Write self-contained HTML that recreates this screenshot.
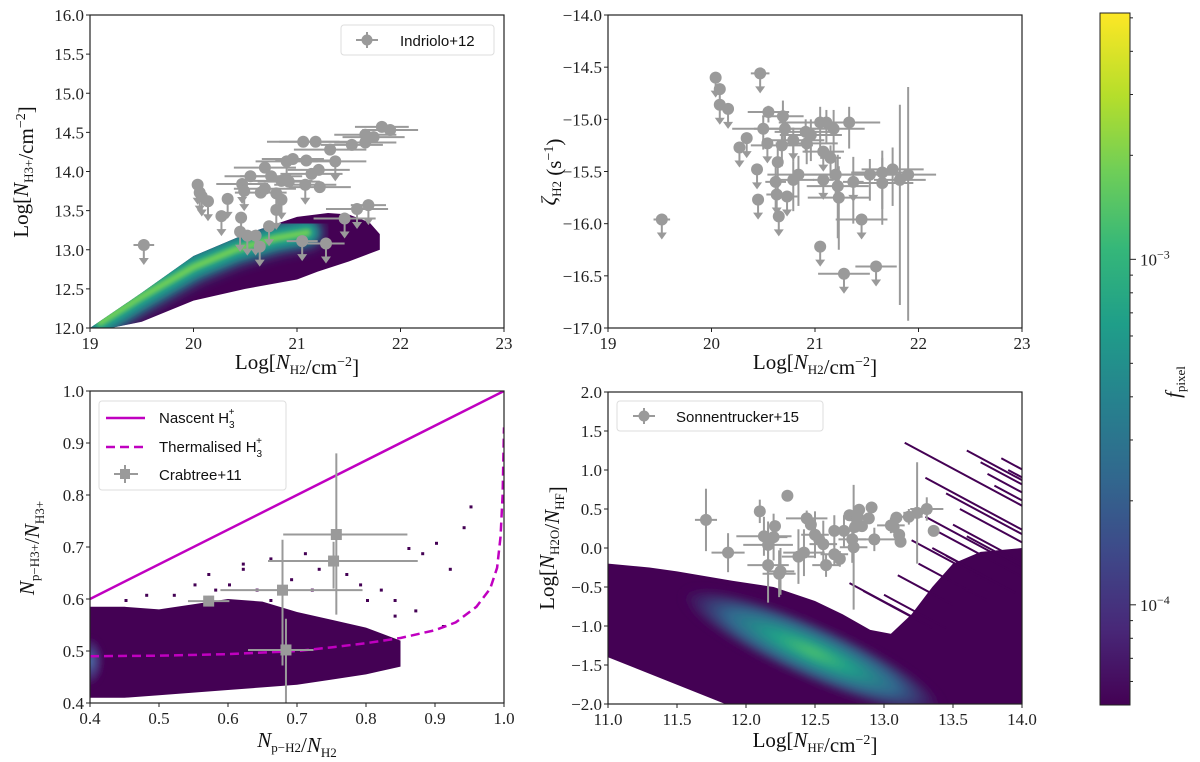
<!DOCTYPE html>
<html><head><meta charset="utf-8">
<style>
html,body{margin:0;padding:0;background:#fff;}
svg{display:block;}
.tk{font-family:"Liberation Serif",serif;font-size:17px;fill:#222;}
.al{font-family:"Liberation Serif",serif;font-size:21px;fill:#111;}
.lg{font-family:"Liberation Sans",sans-serif;font-size:15px;fill:#111;}
</style></head>
<body>
<svg id="fig" width="1200" height="762" viewBox="0 0 1200 762" xmlns="http://www.w3.org/2000/svg">
<defs>
<linearGradient id="vir" x1="0" y1="1" x2="0" y2="0">
<stop offset="0" stop-color="#440154"/><stop offset="0.11" stop-color="#482878"/><stop offset="0.22" stop-color="#3e4989"/><stop offset="0.33" stop-color="#31688e"/><stop offset="0.44" stop-color="#26828e"/><stop offset="0.55" stop-color="#1f9e89"/><stop offset="0.66" stop-color="#35b779"/><stop offset="0.77" stop-color="#6ece58"/><stop offset="0.88" stop-color="#b5de2b"/><stop offset="1" stop-color="#fde725"/>
</linearGradient>
<linearGradient id="hline" x1="0" y1="0" x2="1" y2="0">
<stop offset="0" stop-color="#35b779"/><stop offset="0.1" stop-color="#fde725"/><stop offset="0.55" stop-color="#fde725"/><stop offset="0.7" stop-color="#6ece58"/><stop offset="0.82" stop-color="#31688e"/><stop offset="0.9" stop-color="#482878"/><stop offset="1" stop-color="#440154"/>
</linearGradient>
<radialGradient id="glow4" cx="0.5" cy="0.5" r="0.5">
<stop offset="0" stop-color="#4ec36b"/><stop offset="0.3" stop-color="#1f9e89"/><stop offset="0.65" stop-color="#31688e"/><stop offset="1" stop-color="#440154"/>
</radialGradient>
<radialGradient id="glow3" cx="0.5" cy="0.5" r="0.5">
<stop offset="0" stop-color="#4a6fa8"/><stop offset="1" stop-color="#440154"/>
</radialGradient>
<filter id="blur6"><feGaussianBlur stdDeviation="6"/></filter>
<filter id="blur4"><feGaussianBlur stdDeviation="4"/></filter>
<filter id="blur2"><feGaussianBlur stdDeviation="2"/></filter>
<clipPath id="c1"><rect x="90" y="15" width="414" height="313"/></clipPath>
<clipPath id="c1b"><polygon id="c1poly" points="0,0"/></clipPath>
<clipPath id="c2"><rect x="608" y="15" width="414" height="313"/></clipPath>
<clipPath id="c3"><rect x="90" y="391" width="414" height="312"/></clipPath>
<clipPath id="c4"><rect x="608" y="392" width="414" height="312"/></clipPath>
</defs>
</svg>
<script>
// ---------- DATA ----------
const p1x=[19.52,20.04,20.06,20.08,20.14,20.27,20.33,20.46,20.47,20.49,20.45,20.52,20.6,20.64,20.55,20.69,20.65,20.69,20.75,20.8,20.85,20.8,20.73,20.85,20.92,20.9,20.96,21.09,21.06,21.18,21.32,21.08,21.22,21.14,21.21,21.37,21.53,21.66,21.66,21.74,21.82,21.9,21.46,21.58,21.69,21.05,21.28];
const p1y=[13.06,13.83,13.73,13.68,13.62,13.43,13.65,13.41,13.84,13.75,13.23,13.18,13.18,13.04,13.94,14.05,13.73,13.78,13.94,13.72,13.64,13.51,13.3,13.88,13.87,14.13,14.16,14.14,14.38,14.38,14.28,13.83,13.8,13.97,14.02,14.13,14.34,14.37,14.47,14.44,14.57,14.53,13.4,13.52,13.57,13.11,13.08];
const p1xe=[0.1,0,0,0,0,0,0,0,0.25,0,0,0,0,0,0.25,0.3,0.25,0.3,0.3,0,0,0,0,0.3,0.3,0.3,0.3,0.3,0.35,0.35,0.35,0.3,0.3,0.3,0.3,0.3,0.3,0.3,0.3,0.3,0.26,0.27,0.3,0.3,0.17,0.15,0.18];
const p1lim=[1,1,1,1,1,1,1,1,1,1,1,1,1,1,0,0,0,0,0,1,1,1,1,0,0,1,0,0,0,0,0,1,0,0,0,1,0,0,0,0,0,0,1,1,1,1,1];
const d1upX=[19.0,19.5,20.0,20.5,21.0,21.3,21.5,21.7,21.8];
const d1upY=[12.0,12.45,12.92,13.2,13.42,13.47,13.45,13.35,13.2];
const d1loX=[21.8,21.7,21.5,21.2,21.0,20.5,20.0,19.5,19.2];
const d1loY=[13.0,12.95,12.85,12.72,12.62,12.5,12.35,12.08,12.0];
const ridgeX=[19.1,19.5,20.0,20.4,20.8,21.1];
const ridgeY=[12.07,12.4,12.78,13.0,13.15,13.22];

const p2x=[19.52,20.04,20.08,20.08,20.16,20.47,20.27,20.34,20.44,20.45,20.55,20.5,20.54,20.62,20.63,20.64,20.65,20.69,20.68,20.71,20.73,20.79,20.79,20.84,20.91,20.92,20.96,21.05,21.11,21.18,21.33,21.08,21.15,21.08,21.2,21.22,21.23,21.37,21.45,21.53,21.65,21.65,21.75,21.82,21.9,21.05,21.28,21.59];
const p2y=[-15.96,-14.6,-14.71,-14.86,-14.9,-14.56,-15.27,-15.18,-15.48,-15.77,-14.93,-15.09,-15.23,-15.6,-15.72,-15.41,-15.93,-14.97,-15.25,-15.09,-15.74,-15.2,-15.58,-15.53,-15.12,-15.23,-15.15,-15.03,-15.03,-15.09,-15.03,-15.31,-15.37,-15.58,-15.53,-15.64,-15.75,-15.6,-15.96,-15.53,-15.51,-15.61,-15.48,-15.58,-15.53,-16.22,-16.48,-16.41];
const p2xe=[0.08,0,0,0,0,0.09,0,0,0,0,0.2,0.3,0,0.1,0.1,0,0,0.2,0.3,0.3,0.1,0.3,0.2,0.3,0.3,0.3,0.3,0.4,0.4,0.3,0.3,0.2,0.1,0.1,0.3,0.3,0.3,0.1,0.25,0.3,0.3,0.3,0.3,0.25,0.27,0,0.25,0.2];
const p2ye=[0,0,0,0,0,0,0,0,0,0,0.1,0.2,0,0.3,0,0.35,0,0.25,0.2,0.2,0,0.2,0.3,0.3,0.2,0.2,0.25,0.25,0.2,0.3,0.25,0,0.2,0,0.25,0.5,0.5,0.4,0,0.25,0.35,0.4,0.35,1.2,1.4,0,0,0];
const p2lim=[1,1,1,1,1,1,1,1,1,1,0,0,1,0,1,0,1,0,0,0,1,1,0,0,0,0,0,0,0,0,0,1,0,1,0,0,0,1,1,0,0,0,0,0,0,1,1,1];
const hlineY=-16.88, hlineX0=19.0, hlineX1=22.25;

const p3x=[0.572,0.679,0.684,0.753,0.757];
const p3y=[0.596,0.617,0.502,0.673,0.724];
const p3xlo=[0.03,0.09,0.055,0.095,0.077];
const p3xhi=[0.03,0.116,0.04,0.122,0.103];
const p3ylo=[0.01,0.145,0.11,0.053,0.154];
const p3yhi=[0.01,0.097,0.06,0.037,0.156];
const nascX=[0.4,1.0], nascY=[0.6,1.0];
const thermX=[0.4,0.5,0.6,0.7,0.75,0.8,0.85,0.9,0.93,0.96,0.98,0.99,0.995,0.998,1.0];
const thermY=[0.49,0.491,0.494,0.5,0.507,0.515,0.525,0.54,0.555,0.585,0.62,0.66,0.72,0.8,0.93];
const d3X=[0.4,0.45,0.5,0.55,0.6,0.65,0.7,0.75,0.8,0.85,0.85,0.8,0.75,0.7,0.65,0.6,0.55,0.5,0.45,0.4];
const d3Y=[0.585,0.585,0.58,0.59,0.6,0.595,0.575,0.56,0.545,0.52,0.47,0.455,0.445,0.435,0.43,0.425,0.42,0.415,0.41,0.41];
const s3X=[0.45,0.48,0.52,0.55,0.57,0.6,0.62,0.64,0.66,0.69,0.71,0.73,0.77,0.79,0.82,0.84,0.86,0.88,0.9,0.92,0.94,0.95,0.87,0.91,0.62,0.58,0.66,0.72,0.8,0.84];
const s3Y=[0.6,0.61,0.61,0.63,0.65,0.63,0.66,0.62,0.68,0.64,0.69,0.66,0.65,0.63,0.62,0.6,0.7,0.69,0.71,0.66,0.74,0.78,0.58,0.55,0.67,0.62,0.6,0.62,0.6,0.57];

const p4x=[11.71,11.87,12.1,12.3,12.13,12.16,12.16,12.2,12.21,12.24,12.25,12.38,12.42,12.44,12.47,12.5,12.53,12.56,12.58,12.64,12.64,12.68,12.71,12.75,12.77,12.78,12.79,12.81,12.82,12.84,12.89,12.91,12.93,13.05,13.07,13.09,13.11,13.12,13.18,13.24,13.31,13.36];
const p4y=[0.36,-0.06,0.47,0.67,0.15,0.04,-0.22,0.14,0.28,-0.33,-0.3,-0.11,-0.06,0.38,0.3,0.17,0.11,0.05,-0.22,0.22,-0.08,-0.14,0.22,0.42,0.11,0.01,0.27,0.4,0.49,0.28,0.38,0.52,0.11,0.29,0.27,0.39,0.17,0.08,0.4,0.45,0.5,0.22];
const p4xe=[0.08,0.12,0,0,0.2,0.18,0.15,0.1,0,0.12,0.1,0.12,0.15,0.15,0,0.1,0,0.1,0.1,0,0.1,0,0.1,0,0.1,0.1,0,0,0,0,0,0,0.15,0.1,0,0,0,0,0.1,0.1,0.12,0];
const p4ye=[0.4,0.25,0.15,0.06,0.25,0.3,0.48,0.3,0,0.3,0.3,0.35,0.3,0.1,0,0.3,0,0.3,0.15,0.2,0.15,0.1,0.2,0,0.3,0.8,0,0,0,0,0,0,0.15,0.1,0,0,0,0,0.1,0.65,0.15,0];
const d4X=[11.0,11.3,11.5,11.9,12.2,12.5,12.7,12.9,13.05,13.2,13.35,13.5,13.7,14.0,14.0,13.0,11.85,11.0];
const d4Y=[-0.2,-0.25,-0.3,-0.42,-0.5,-0.68,-0.85,-1.05,-1.1,-0.85,-0.5,-0.2,-0.05,0.0,-2.0,-2.0,-2.0,-1.4];
const streakX0=[13.15,13.3,13.45,13.55,13.6,13.7,13.75,13.8,13.85,13.9,13.3,13.4,12.75,12.85,13.0,13.1,13.2,13.35,13.5,13.25,13.6,13.45];
const streakY0=[1.35,0.9,0.7,0.5,1.25,1.1,0.95,0.8,1.15,1.0,0.4,0.2,-0.45,-0.55,-0.6,-0.35,0.1,0.0,0.3,-0.2,0.15,-0.1];
const streakLen=[0.85,0.7,0.55,0.45,0.4,0.3,0.25,0.2,0.15,0.1,0.7,0.6,0.5,0.5,0.45,0.4,0.6,0.6,0.5,0.5,0.4,0.5];

const cbTicksMajor=[-3,-4], cbMin=-4.29, cbMax=-2.287;

// ---------- RENDER ----------
const NS='http://www.w3.org/2000/svg';
const svg=document.getElementById('fig');
function mk(tag,a,p){const e=document.createElementNS(NS,tag);for(const k in a)e.setAttribute(k,a[k]);(p||svg).appendChild(e);return e;}
function axis(d0,d1,p0,p1){return v=>p0+(v-d0)/(d1-d0)*(p1-p0);}
const GR='#9a9a9a', MG='#c000c0';

function frame(X,Y,xt,yt,xfmt,yfmt,px0,px1,py0,py1,name){
  const g=mk('g',{});
  
  
  const r=mk('rect',{x:px0,y:py0,width:px1-px0,height:py1-py0,fill:'none',stroke:'#222','stroke-width':1.2},g);
  
  
  xt.forEach(v=>{const x=X(v);mk('line',{x1:x,x2:x,y1:py1,y2:py1+4,stroke:'#222'},g);
    const t=mk('text',{x:x,y:py1+21,'text-anchor':'middle',class:'tk'},g);t.textContent=xfmt(v);
    
    });
  yt.forEach(v=>{const y=Y(v);mk('line',{x1:px0-4,x2:px0,y1:y,y2:y,stroke:'#222'},g);
    const t=mk('text',{x:px0-6,y:y+6,'text-anchor':'end',class:'tk'},g);t.textContent=yfmt(v);
    
    });
}
function f1(v){return (v<0?'\u2212':'')+Math.abs(v).toFixed(1);}
function f0(v){return String(v);}
function pts(xs,ys){return xs.map((x,i)=>x+','+ys[i]).join(' ');}
function marker(g,x,y,lim,sq){
  if(lim){mk('line',{x1:x,x2:x,y1:y,y2:y+16,stroke:GR,'stroke-width':2},g);
    mk('path',{d:`M${x-5},${y+13} L${x+5},${y+13} L${x},${y+20} Z`,fill:GR},g);}
  if(sq) mk('rect',{x:x-5.5,y:y-5.5,width:11,height:11,fill:GR},g);
  else mk('circle',{cx:x,cy:y,r:6,fill:GR},g);
}

// Panel 1
{
const X=axis(19,23,90,504),Y=axis(12,16,328,15);
const envPts=pts(d1upX.map(X).concat(d1loX.map(X)),d1upY.map(Y).concat(d1loY.map(Y)));
document.getElementById('c1poly').setAttribute('points',envPts);
const g=mk('g',{'clip-path':'url(#c1)'});


const poly=mk('polygon',{points:envPts,fill:'#440154'},g);


const gg=mk('g',{'clip-path':'url(#c1b)'},g);
const rp=pts(ridgeX.map(X),ridgeY.map(Y));
mk('polyline',{points:rp,fill:'none',stroke:'#26828e','stroke-width':30,'stroke-linecap':'round',filter:'url(#blur6)'},gg);
mk('polyline',{points:rp,fill:'none',stroke:'#1f9e89','stroke-width':18,'stroke-linecap':'round',filter:'url(#blur4)'},gg);
mk('polyline',{points:rp,fill:'none',stroke:'#6ece58','stroke-width':7,'stroke-linecap':'round',filter:'url(#blur2)'},gg);
const eg=mk('g',{});


p1x.forEach((v,i)=>{const x=X(v),y=Y(p1y[i]);
  if(p1xe[i]>0)mk('line',{x1:X(v-p1xe[i]),x2:X(v+p1xe[i]),y1:y,y2:y,stroke:GR,'stroke-width':2},eg);
  marker(eg,x,y,p1lim[i],false);});
frame(X,Y,[19,20,21,22,23],[12,12.5,13,13.5,14,14.5,15,15.5,16],f0,f1,90,504,15,328,'panel-h3');
const lg=mk('g',{});


mk('rect',{x:341,y:25,width:153,height:30,rx:3,fill:'#fff',stroke:'#ddd'},lg);
mk('line',{x1:356,x2:378,y1:40,y2:40,stroke:GR,'stroke-width':2},lg);
mk('line',{x1:367,x2:367,y1:32,y2:48,stroke:GR,'stroke-width':2},lg);
mk('circle',{cx:367,cy:40,r:5.5,fill:GR},lg);
const lt=mk('text',{x:400,y:46,class:'lg'},lg);lt.textContent='Indriolo+12';
}
// Panel 2
{
const X=axis(19,23,608,1022),Y=axis(-17,-14,328,15);
const hl=mk('line',{x1:X(hlineX0),x2:X(hlineX1),y1:Y(hlineY),y2:Y(hlineY),stroke:'url(#hline)','stroke-width':2});


const eg=mk('g',{'clip-path':'url(#c2)'});


p2x.forEach((v,i)=>{const x=X(v),y=Y(p2y[i]);
  if(p2xe[i]>0)mk('line',{x1:X(v-p2xe[i]),x2:X(v+p2xe[i]),y1:y,y2:y,stroke:GR,'stroke-width':2},eg);
  if(p2ye[i]>0)mk('line',{x1:x,x2:x,y1:Y(p2y[i]+p2ye[i]*0.6),y2:Y(p2y[i]-p2ye[i]),stroke:GR,'stroke-width':2},eg);
  marker(eg,x,y,p2lim[i],false);});
frame(X,Y,[19,20,21,22,23],[-17,-16.5,-16,-15.5,-15,-14.5,-14],f0,f1,608,1022,15,328,'panel-zeta');
}
// Panel 3
{
const X=axis(0.4,1.0,90,504),Y=axis(0.4,1.0,703,391);
const g=mk('g',{'clip-path':'url(#c3)'});


mk('polygon',{points:pts(d3X.map(X),d3Y.map(Y)),fill:'#440154'},g);
s3X.forEach((v,i)=>{const c=mk('rect',{x:X(v),y:Y(s3Y[i]),width:3,height:3,fill:'#440154'},g);
  
  });
mk('ellipse',{cx:X(0.4),cy:Y(0.48),rx:14,ry:24,fill:'url(#glow3)',filter:'url(#blur2)'},g);
const th=mk('polyline',{points:pts(thermX.map(X),thermY.map(Y)),fill:'none',stroke:MG,'stroke-width':2.5,'stroke-dasharray':'9 5'},g);


const na=mk('polyline',{points:pts(nascX.map(X),nascY.map(Y)),fill:'none',stroke:MG,'stroke-width':2.5},g);


const eg=mk('g',{},g);


p3x.forEach((v,i)=>{const x=X(v),y=Y(p3y[i]);
  mk('line',{x1:X(v-p3xlo[i]),x2:X(v+p3xhi[i]),y1:y,y2:y,stroke:GR,'stroke-width':2},eg);
  mk('line',{x1:x,x2:x,y1:Y(p3y[i]+p3yhi[i]),y2:Y(p3y[i]-p3ylo[i]),stroke:GR,'stroke-width':2},eg);
  marker(eg,x,y,0,true);});
frame(X,Y,[0.4,0.5,0.6,0.7,0.8,0.9,1.0],[0.4,0.5,0.6,0.7,0.8,0.9,1.0],f1,f1,90,504,391,703,'panel-ortho-para');
const lg=mk('g',{});


mk('rect',{x:99,y:401,width:187,height:89,rx:3,fill:'#fff',stroke:'#ddd'},lg);
mk('line',{x1:106,x2:145,y1:418,y2:418,stroke:MG,'stroke-width':2.5},lg);
mk('line',{x1:106,x2:145,y1:447,y2:447,stroke:MG,'stroke-width':2.5,'stroke-dasharray':'9 5'},lg);
mk('line',{x1:114,x2:138,y1:474,y2:474,stroke:GR,'stroke-width':2},lg);
mk('line',{x1:125,x2:125,y1:465,y2:483,stroke:GR,'stroke-width':2},lg);
mk('rect',{x:120,y:469,width:10,height:10,fill:GR},lg);
const t1=mk('text',{x:159,y:423,class:'lg'},lg);t1.innerHTML='Nascent H<tspan dy="5" font-size="10">3</tspan><tspan dx="-6" dy="-13" font-size="10">+</tspan>';
const t2=mk('text',{x:159,y:452,class:'lg'},lg);t2.innerHTML='Thermalised H<tspan dy="5" font-size="10">3</tspan><tspan dx="-6" dy="-13" font-size="10">+</tspan>';
const t3=mk('text',{x:159,y:480,class:'lg'},lg);t3.textContent='Crabtree+11';
}
// Panel 4
{
const X=axis(11,14,608,1022),Y=axis(-2,2,704,392);
const g=mk('g',{'clip-path':'url(#c4)'});


mk('polygon',{points:pts(d4X.map(X),d4Y.map(Y)),fill:'#440154'},g);
streakX0.forEach((v,i)=>{const l=mk('line',{x1:X(v),y1:Y(streakY0[i]),x2:X(v+streakLen[i]),y2:Y(streakY0[i]-streakLen[i]*0.95),stroke:'#440154','stroke-width':2},g);
  
  });
const cx=X(12.48),cy=Y(-1.33);
mk('ellipse',{cx:cx,cy:cy,rx:140,ry:28,fill:'url(#glow4)',transform:`rotate(24 ${cx} ${cy})`,filter:'url(#blur4)'},g);
const eg=mk('g',{},g);


p4x.forEach((v,i)=>{const x=X(v),y=Y(p4y[i]);
  if(p4xe[i]>0)mk('line',{x1:X(v-p4xe[i]),x2:X(v+p4xe[i]),y1:y,y2:y,stroke:GR,'stroke-width':2},eg);
  if(p4ye[i]>0)mk('line',{x1:x,x2:x,y1:Y(p4y[i]+p4ye[i]),y2:Y(p4y[i]-p4ye[i]),stroke:GR,'stroke-width':2},eg);
  marker(eg,x,y,0,false);});
frame(X,Y,[11,11.5,12,12.5,13,13.5,14],[-2,-1.5,-1,-0.5,0,0.5,1,1.5,2],f1,f1,608,1022,392,704,'panel-h2o-hf');
const lg=mk('g',{});


mk('rect',{x:617,y:401,width:206,height:30,rx:3,fill:'#fff',stroke:'#ddd'},lg);
mk('line',{x1:633,x2:655,y1:416,y2:416,stroke:GR,'stroke-width':2},lg);
mk('line',{x1:644,x2:644,y1:408,y2:424,stroke:GR,'stroke-width':2},lg);
mk('circle',{cx:644,cy:416,r:5.5,fill:GR},lg);
const lt=mk('text',{x:676,y:422,class:'lg'},lg);lt.textContent='Sonnentrucker+15';
}
// Colorbar
{
const Y=axis(cbMin,cbMax,705,13);
const cb=mk('rect',{x:1100,y:13,width:30,height:692,fill:'url(#vir)',stroke:'#222','stroke-width':1});


cbTicksMajor.forEach(e=>{const y=Y(e);mk('line',{x1:1130,x2:1136,y1:y,y2:y,stroke:'#222'});
  const t=mk('text',{x:1140,y:y+6,class:'tk'});t.innerHTML='10<tspan dy="-7" font-size="12">\u2212'+(-e)+'</tspan>';
  
  
  for(let m=2;m<10;m++){const v=e+Math.log10(m);if(v<cbMax&&v>cbMin){const yy=Y(v);mk('line',{x1:1130,x2:1133,y1:yy,y2:yy,stroke:'#222'});}}});
for(let m=5;m<10;m++){const v=-5+Math.log10(m);if(v>cbMin){const yy=Y(v);mk('line',{x1:1130,x2:1133,y1:yy,y2:yy,stroke:'#222'});}}
}
// Axis labels
function lab(x,y,rot,html,name){const t=mk('text',{x:x,y:y,class:'al','text-anchor':'middle',transform:rot?`rotate(-90 ${x} ${y})`:''});t.innerHTML=html;
  
  }
const s=(a)=>`<tspan dy="5" font-size="13">${a}</tspan><tspan dy="-5"></tspan>`;
const cm=`/cm<tspan dy="-8" font-size="14">−2</tspan><tspan dy="8">]</tspan>`;
lab(297,369,false,'Log[<tspan font-style="italic">N</tspan>'+s('H2')+cm,'x-axis-title-1');
lab(815,369,false,'Log[<tspan font-style="italic">N</tspan>'+s('H2')+cm,'x-axis-title-2');
lab(297,747,false,'<tspan font-style="italic">N</tspan>'+s('p−H2')+'/<tspan font-style="italic">N</tspan>'+s('H2'),'x-axis-title-3');
lab(815,747,false,'Log[<tspan font-style="italic">N</tspan>'+s('HF')+cm,'x-axis-title-4');
lab(28,172,true,'Log[<tspan font-style="italic">N</tspan>'+s('H3+')+cm,'y-axis-title-1');
lab(556,172,true,'<tspan font-style="italic">ζ</tspan>'+s('H2')+' (s<tspan dy="-8" font-size="14">−1</tspan><tspan dy="8">)</tspan>','y-axis-title-2');
lab(34,548,true,'<tspan font-style="italic">N</tspan>'+s('p−H3+')+'/<tspan font-style="italic">N</tspan>'+s('H3+'),'y-axis-title-3');
lab(554,548,true,'Log[<tspan font-style="italic">N</tspan>'+s('H2O')+'/<tspan font-style="italic">N</tspan>'+s('HF')+']','y-axis-title-4');
lab(1180,382,true,'<tspan font-style="italic">f</tspan>'+s('pixel'),'colorbar-title');
</script>
</body></html>
